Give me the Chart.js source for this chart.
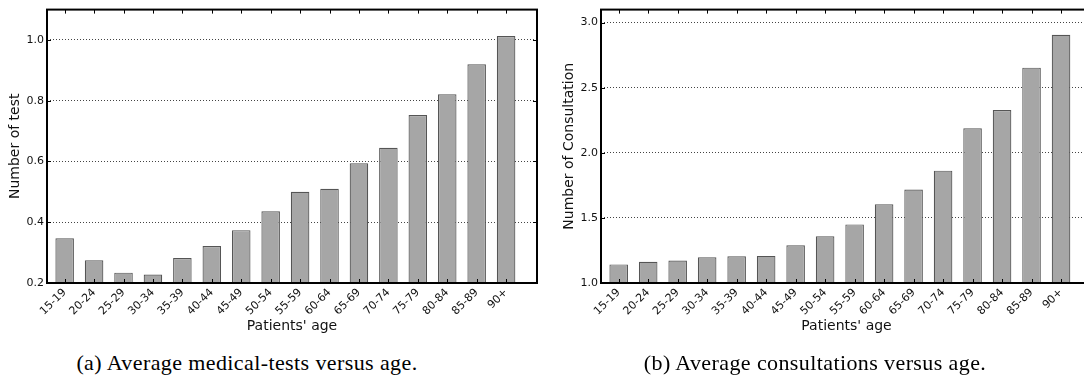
<!DOCTYPE html>
<html>
<head>
<meta charset="utf-8">
<script src="https://cdn.jsdelivr.net/npm/chart.js@4.4.1/dist/chart.umd.min.js"></script>
<style>
    html, body { margin: 0; padding: 0; background: #fff; }
    body { width: 1084px; height: 381px; overflow: hidden; position: relative; }
    canvas { position: absolute; top: 0; }
    #testChart { left: 0; }
    #consultChart { left: 540px; }
    .caption {
        position: absolute;
        top: 351px;
        font-family: 'Liberation Serif', serif;
        font-size: 22px;
        letter-spacing: 0.4px;
        line-height: 24px;
        color: #000;
        text-align: center;
        white-space: nowrap;
    }
</style>
</head>
<body>
<canvas id="testChart" width="545" height="340"></canvas>
<canvas id="consultChart" width="560" height="340"></canvas>
<div class="caption" style="left: 0; width: 494px;">(a) Average medical-tests versus age.</div>
<div class="caption" style="left: 600px; width: 430px;">(b) Average consultations versus age.</div>
<script>
const ageGroups = ['15-19', '20-24', '25-29', '30-34', '35-39', '40-44', '45-49', '50-54',
    '55-59', '60-64', '65-69', '70-74', '75-79', '80-84', '85-89', '90+'];

const testValues = [0.347, 0.275, 0.234, 0.228, 0.282, 0.322, 0.374, 0.436,
    0.500, 0.510, 0.594, 0.645, 0.753, 0.821, 0.920, 1.013];
const consultValues = [1.143, 1.163, 1.173, 1.198, 1.206, 1.208, 1.290, 1.359,
    1.450, 1.605, 1.718, 1.863, 2.188, 2.328, 2.654, 2.906];

const testTicks = [0.2, 0.4, 0.6, 0.8, 1.0];
const consultTicks = [1.0, 1.5, 2.0, 2.5, 3.0];

const fuente = 'DejaVu Sans';

// marco negro y marcas hacia adentro, como el estilo clasico
const marcoPlugin = {
    id: 'marco',
    afterDatasetsDraw(chart) {
        const { ctx, chartArea: a, scales } = chart;
        ctx.save();
        ctx.strokeStyle = '#000';
        ctx.lineWidth = 1;
        ctx.beginPath();
        scales.x.ticks.forEach(t => {
            const px = Math.round(scales.x.getPixelForValue(t.value)) + 0.5;
            ctx.moveTo(px, a.bottom); ctx.lineTo(px, a.bottom - 4);
            ctx.moveTo(px, a.top); ctx.lineTo(px, a.top + 4);
        });
        scales.y.ticks.forEach(t => {
            const py = Math.round(scales.y.getPixelForValue(t.value)) + 0.5;
            ctx.moveTo(a.left, py); ctx.lineTo(a.left + 4, py);
            ctx.moveTo(a.right, py); ctx.lineTo(a.right - 4, py);
        });
        ctx.stroke();
        ctx.lineWidth = 2;
        ctx.strokeRect(a.left, a.top, a.right - a.left, a.bottom - a.top);
        ctx.restore();
    }
};

function crearGrafico(id, valores, ticksY, yMin, yMax, tituloY, anchoEjeY, padTituloY) {
    const ctx = document.getElementById(id).getContext('2d');
    const alto = ctx.canvas.height;

    return new Chart(ctx, {
        type: 'bar',
        data: {
            datasets: [{
                data: valores.map((v, i) => ({ x: i, y: v })),
                backgroundColor: '#a6a6a6',
                borderColor: '#555555',
                borderWidth: 1.2,
                barPercentage: 0.63,
                categoryPercentage: 1
            }]
        },
        options: {
            responsive: false,
            animation: false,
            devicePixelRatio: 1,
            layout: { padding: { top: 8, right: 8, left: 0, bottom: 0 } },
            plugins: {
                legend: { display: false },
                tooltip: { enabled: false }
            },
            scales: {
                x: {
                    type: 'linear',
                    min: -0.6,
                    max: 16.05,
                    offset: false,
                    grid: { display: false, drawTicks: false },
                    border: { display: false },
                    afterBuildTicks: scale => {
                        scale.ticks = ageGroups.map((_, i) => ({ value: i }));
                    },
                    afterFit: scale => { scale.height = alto - 283; },
                    ticks: {
                        autoSkip: false,
                        minRotation: 45,
                        maxRotation: 45,
                        padding: 3,
                        color: '#111',
                        font: { family: fuente, size: 11 },
                        callback: value => ageGroups[value]
                    },
                    title: {
                        display: true,
                        text: "Patients' age",
                        color: '#111',
                        font: { family: fuente, size: 14 },
                        padding: { top: 0, bottom: 5 }
                    }
                },
                y: {
                    min: yMin,
                    max: yMax,
                    grid: {
                        color: '#444',
                        lineWidth: 1,
                        drawTicks: false
                    },
                    border: { display: false, dash: [1, 2] },
                    afterBuildTicks: scale => {
                        scale.ticks = ticksY.map(v => ({ value: v }));
                    },
                    afterFit: scale => { scale.width = anchoEjeY; },
                    ticks: {
                        padding: 3,
                        color: '#111',
                        font: { family: fuente, size: 11 },
                        callback: value => value.toFixed(1)
                    },
                    title: {
                        display: true,
                        text: tituloY,
                        color: '#111',
                        font: { family: fuente, size: 14 },
                        padding: { top: padTituloY, bottom: 0 }
                    }
                }
            }
        },
        plugins: [marcoPlugin]
    });
}

crearGrafico('testChart', testValues, testTicks, 0.2, 1.1, 'Number of test', 47, 7);
crearGrafico('consultChart', consultValues, consultTicks, 1.0, 3.1, 'Number of Consultation', 61, 21);
</script>
</body>
</html>
